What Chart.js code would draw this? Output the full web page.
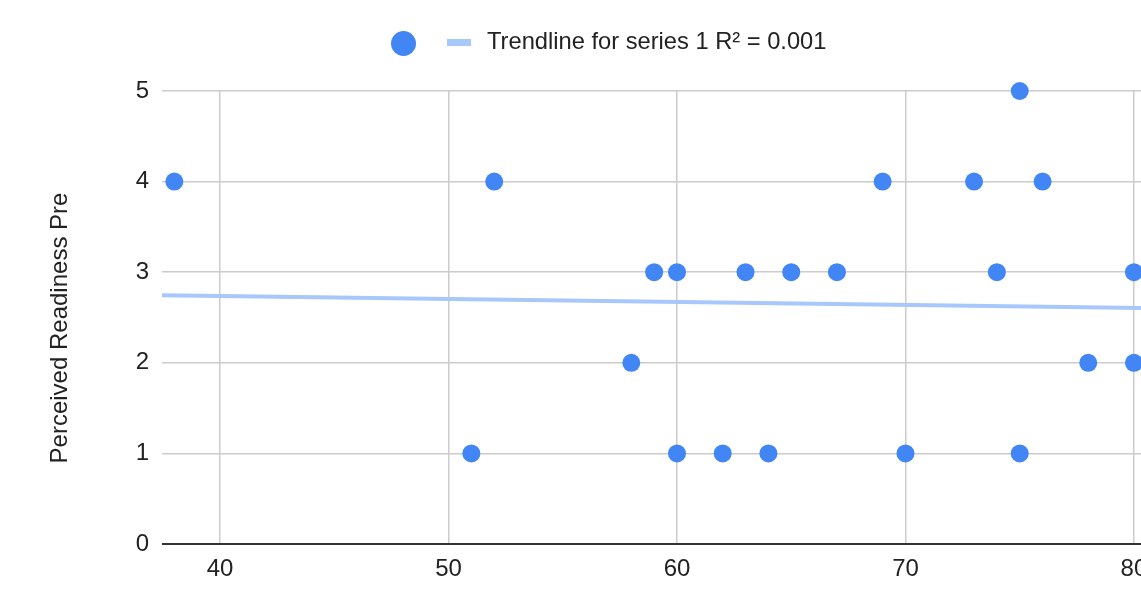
<!DOCTYPE html>
<html>
<head>
<meta charset="utf-8">
<script src="https://cdn.jsdelivr.net/npm/chart.js@4/dist/chart.umd.min.js"></script>
<style>
  html, body { margin: 0; padding: 0; background: #fff; overflow: hidden; width: 1141px; height: 600px; }
  #wrap { position: absolute; left: 0; top: 0; width: 1200px; height: 600px; }
  #legend { position: absolute; left: 0; top: 0; width: 1141px; height: 80px; font-family: "Liberation Sans", Arial, sans-serif; }
  .dot { position: absolute; left: 390.5px; top: 30.5px; width: 25px; height: 25px; border-radius: 50%; background: #4285F4; }
  .swatch { position: absolute; left: 447px; top: 38.5px; width: 24px; height: 7px; background: #a8c7fa; }
  .ltext { position: absolute; left: 487px; top: 28px; font-size: 23.7px; line-height: 26px; color: #222; white-space: nowrap; }
</style>
</head>
<body>
<div id="wrap"><canvas id="c" width="1200" height="600"></canvas></div>
<div id="legend">
  <div class="dot"></div>
  <div class="swatch"></div>
  <div class="ltext" id="trendLabel"></div>
</div>
<script>
// ---- data ----
const scoreX = [38, 52, 51, 58, 59, 60, 60, 62, 63, 64, 65, 67, 69, 70, 73, 74, 75, 75, 76, 78, 80, 80];
const readinessY = [4, 4, 1, 2, 3, 3, 1, 1, 3, 1, 3, 3, 4, 1, 4, 3, 5, 1, 4, 2, 3, 2];
const trendX = [37.46, 82.89];
const trendY = [2.746, 2.596];
const xTicks = [40, 50, 60, 70, 80];
const yTicks = [0, 1, 2, 3, 4, 5];
const yTitle = 'Perceived Readiness Pre';
const trendLabel = 'Trendline for series 1 R² = 0.001';

document.getElementById('trendLabel').textContent = trendLabel;

const points = scoreX.map((x, i) => ({ x: x, y: readinessY[i] }));
const trend = trendX.map((x, i) => ({ x: x, y: trendY[i] }));

const FAMILY = '"Liberation Sans", Arial, sans-serif';
const FONT = { family: FAMILY, size: 24 };

// y-axis title drawn as text, centred where the reference places it
const yTitlePlugin = {
  id: 'yTitlePlugin',
  afterDraw(chart) {
    const ctx = chart.ctx;
    const area = chart.chartArea;
    ctx.save();
    ctx.translate(60.5, (area.top + area.bottom) / 2 + 10.5);
    ctx.rotate(-Math.PI / 2);
    ctx.font = '24px ' + FAMILY;
    ctx.fillStyle = '#222';
    ctx.textAlign = 'center';
    ctx.textBaseline = 'middle';
    ctx.fillText(yTitle, 0, 0);
    ctx.restore();
  }
};

new Chart(document.getElementById('c'), {
  type: 'scatter',
  data: {
    datasets: [
      {
        label: '',
        data: points,
        backgroundColor: '#4285F4',
        borderWidth: 0,
        pointRadius: 9,
        pointHoverRadius: 9,
        clip: false,
        order: 1
      },
      {
        label: trendLabel,
        data: trend,
        showLine: true,
        borderColor: '#a8c7fa',
        borderWidth: 4,
        pointRadius: 0,
        fill: false,
        order: 2
      }
    ]
  },
  options: {
    responsive: false,
    animation: false,
    events: [],
    layout: { autoPadding: false, padding: { left: 0, right: 0, top: 91, bottom: 0 } },
    plugins: { legend: { display: false }, tooltip: { enabled: false } },
    scales: {
      x: {
        type: 'linear',
        min: trendX[0],
        max: trendX[1],
        afterBuildTicks: (s) => { s.ticks = xTicks.map(v => ({ value: v })); },
        afterFit: (s) => { s.height = 56; s.paddingLeft = 0; s.paddingRight = 0; },
        ticks: { font: FONT, color: '#222', padding: 11, includeBounds: false, maxRotation: 0 },
        grid: { color: '#cccccc', lineWidth: 1.5, drawTicks: false },
        border: { display: false }
      },
      y: {
        min: 0,
        max: 5,
        afterBuildTicks: (s) => { s.ticks = yTicks.map(v => ({ value: v })); },
        afterFit: (s) => { s.width = 162; s.paddingTop = 0; s.paddingBottom = 0; },
        ticks: { font: FONT, color: '#222', padding: 13 },
        grid: {
          color: (ctx) => ctx.tick && ctx.tick.value === 0 ? '#333333' : '#cccccc',
          lineWidth: (ctx) => ctx.tick && ctx.tick.value === 0 ? 2 : 1.5,
          drawTicks: false
        },
        border: { display: false },
        title: { display: false }
      }
    }
  },
  plugins: [yTitlePlugin]
});
</script>
</body>
</html>
